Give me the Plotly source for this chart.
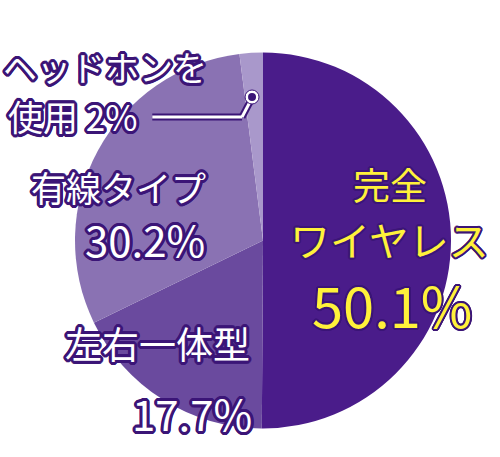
import plotly.graph_objects as go
import math

labels = ["完全ワイヤレス", "左右一体型", "有線タイプ", "ヘッドホンを使用"]
values = [50.1, 17.7, 30.2, 2.0]
pct_text = ["50.1%", "17.7%", "30.2%", "2%"]
colors = ["#4a1c8a", "#6a4a9e", "#8a72b3", "#a998cb"]

W, H = 500, 457
L, R, T, B = 74.5, 48.5, 52, 28
PW, PH = W - L - R, H - T - B

def px(x):
    return (x - L) / PW

def py(y):
    return 1 - (y - T) / PH

def outline(color, r):
    parts = []
    for k in range(16):
        a = 2 * math.pi * k / 16
        parts.append(f"{r*math.cos(a):.1f}px {r*math.sin(a):.1f}px 0 {color}")
    return ", ".join(parts)

OUT = "#3b1577"
shadow_w = outline(OUT, 3)
shadow_y = outline(OUT, 2)
FONT = "Noto Sans CJK JP"

fig = go.Figure(go.Pie(
    labels=labels, values=values, sort=False, direction="clockwise",
    rotation=0, textinfo="none", hoverinfo="label+percent",
    marker=dict(colors=colors, line=dict(width=0)),
    showlegend=False,
))

def ann(text, x, y, size, color="white", shadow=shadow_w):
    return dict(text=text, x=px(x), y=py(y), xref="paper", yref="paper",
                showarrow=False, xanchor="center", yanchor="middle",
                font=dict(family=FONT, size=size, color=color, shadow=shadow))

annotations = [
    ann("完全", 390, 184, 37, "#fff23a", shadow_y),
    ann("ワイヤレス", 390, 239, 40, "#fff23a", shadow_y),
    ann(pct_text[0], 392, 303, 56, "#fff23a", shadow_y),
    ann(labels[2][:2] + "タイプ", 118, 186, 35),
    ann(pct_text[2], 145, 238, 42),
    ann(labels[1], 157, 343, 37),
    ann(pct_text[1], 192, 412, 42),
    ann("ヘッドホンを", 105, 66, 34),
    ann("使用 " + pct_text[3], 72, 116, 35),
]

shapes = []
pts = [(152, 117), (242, 117), (252, 98)]
for (x0, y0), (x1, y1) in zip(pts[:-1], pts[1:]):
    shapes.append(dict(type="line", xref="paper", yref="paper",
                       x0=px(x0), y0=py(y0), x1=px(x1), y1=py(y1),
                       line=dict(color=OUT, width=7)))
for (x0, y0), (x1, y1) in zip(pts[:-1], pts[1:]):
    shapes.append(dict(type="line", xref="paper", yref="paper",
                       x0=px(x0), y0=py(y0), x1=px(x1), y1=py(y1),
                       line=dict(color="white", width=3)))
cx, cy = 252, 97
shapes.append(dict(type="circle", xref="paper", yref="paper",
                   x0=px(cx - 7), x1=px(cx + 7), y0=py(cy + 7), y1=py(cy - 7),
                   fillcolor="white", line=dict(color=OUT, width=1)))
shapes.append(dict(type="circle", xref="paper", yref="paper",
                   x0=px(cx - 4), x1=px(cx + 4), y0=py(cy + 4), y1=py(cy - 4),
                   fillcolor=OUT, line=dict(width=0)))

fig.update_layout(
    width=W, height=H,
    margin=dict(l=L, r=R, t=T, b=B, autoexpand=False),
    paper_bgcolor="white", plot_bgcolor="white",
    annotations=annotations, shapes=shapes,
)

fig.write_html("out.html", config={"displayModeBar": False},
               post_script="document.body.style.margin='0';document.body.style.overflow='hidden';")
